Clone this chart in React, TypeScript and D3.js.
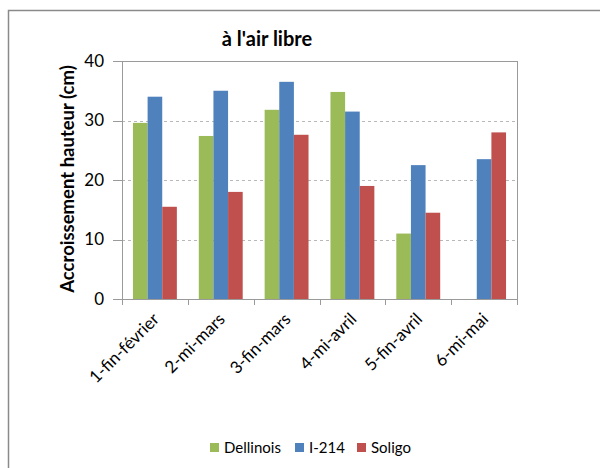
import React from "react";
import * as d3 from "d3";

const categories = ["1-fin-février", "2-mi-mars", "3-fin-mars", "4-mi-avril", "5-fin-avril", "6-mi-mai"];
const seriesNames = ["Dellinois", "I-214", "Soligo"];
const dellinois: (number | null)[] = [29.6, 27.4, 31.8, 34.8, 11.0, null];
const i214: (number | null)[] = [34.0, 35.0, 36.5, 31.5, 22.5, 23.5];
const soligo: (number | null)[] = [15.5, 18.0, 27.6, 19.0, 14.5, 28.0];
const seriesColors = ["#9BBB59", "#4F81BD", "#C0504D"];
const yTicks = [0, 10, 20, 30, 40];

const W = 600, H = 468;
const L = 122, R = 517, T = 61, B = 299;
const FONT = "Lato, 'Open Sans', sans-serif";

export default function App() {
  const seriesValues = [dellinois, i214, soligo];
  const x = d3.scaleBand<string>().domain(categories).range([L, R]).paddingInner(0).paddingOuter(0);
  const xs = d3.scaleBand<string>().domain(seriesNames).range([0, x.bandwidth()]).paddingInner(0).paddingOuter(0.75);
  const y = d3.scaleLinear().domain([0, 40]).range([B, T]);
  const axisColor = "#9a9a9a";

  const tickXs = categories.map((c) => x(c)!).concat([R]);

  return (
    <svg width={W} height={H} style={{ position: "absolute", left: 0, top: 0, background: "#fff" }}>
      <rect x={8.5} y={10.5} width={W + 20} height={H + 20} fill="#fff" stroke="#8a8a8a" strokeWidth={1.5} />
      <text x={267} y={46} textAnchor="middle" fontFamily={FONT} fontWeight="bold" fontSize={20} fill="#000">
        à l'air libre
      </text>
      {/* gridlines */}
      {yTicks.filter((t) => t > 0 && t < 40).map((t) => (
        <line key={t} x1={L} x2={R} y1={Math.round(y(t)) + 0.5} y2={Math.round(y(t)) + 0.5} stroke="#b8b8b8" strokeDasharray="3,3" />
      ))}
      {/* plot border top and right */}
      <line x1={L} x2={R} y1={Math.round(y(40)) + 0.5} y2={Math.round(y(40)) + 0.5} stroke={axisColor} />
      <line x1={R + 0.5} x2={R + 0.5} y1={T} y2={B} stroke={axisColor} />
      {/* bars */}
      {seriesValues.map((vals, si) =>
        vals.map((v, ci) =>
          v == null ? null : (
            <rect
              key={`${si}-${ci}`}
              x={x(categories[ci])! + xs(seriesNames[si])!}
              y={y(v)}
              width={xs.bandwidth()}
              height={y(0) - y(v)}
              fill={seriesColors[si]}
            />
          )
        )
      )}
      {/* y axis */}
      <line x1={L + 0.5} x2={L + 0.5} y1={T} y2={B} stroke={axisColor} />
      {yTicks.map((t) => (
        <g key={t}>
          <line x1={L - 9} x2={L} y1={Math.round(y(t)) + 0.5} y2={Math.round(y(t)) + 0.5} stroke={axisColor} />
          <text x={104} y={y(t)} dy="0.35em" textAnchor="end" fontFamily={FONT} fontSize={17} fill="#000">
            {t}
          </text>
        </g>
      ))}
      {/* x axis */}
      <line x1={L} x2={R} y1={Math.round(B) + 0.5} y2={Math.round(B) + 0.5} stroke={axisColor} />
      {tickXs.map((tx, i) => (
        <line key={i} x1={Math.round(tx) + 0.5} x2={Math.round(tx) + 0.5} y1={B} y2={B + 6} stroke={axisColor} />
      ))}
      {categories.map((c) => {
        const cx = x(c)! + x.bandwidth() / 2 + 1;
        const cy = B + 17;
        return (
          <text key={c} x={cx} y={cy} textAnchor="end" fontFamily={FONT} fontSize={17} fill="#000" transform={`rotate(-45 ${cx} ${cy})`} dy="0.35em">
            {c}
          </text>
        );
      })}
      {/* y title */}
      <text transform={`translate(74 ${(T + B) / 2 - 1}) rotate(-90)`} textAnchor="middle" fontFamily={FONT} fontWeight="bold" fontSize={18.5} fill="#000">
        Accroissement hauteur (cm)
      </text>
      {/* legend */}
      {seriesNames.map((s, i) => {
        const lx = [210, 295, 357][i];
        return (
          <g key={s}>
            <rect x={lx} y={443} width={9} height={9} fill={seriesColors[i]} />
            <text x={lx + 14} y={452.5} fontFamily={FONT} fontSize={15} fill="#000">
              {s}
            </text>
          </g>
        );
      })}
    </svg>
  );
}
